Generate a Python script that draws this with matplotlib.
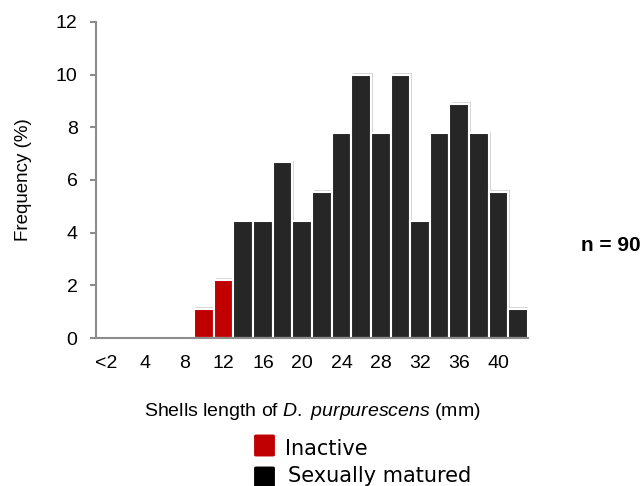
import matplotlib
matplotlib.use("Agg")
import matplotlib.pyplot as plt
import matplotlib.patheffects as pe
from matplotlib.patches import FancyBboxPatch

# size classes (mm), only every second one is labelled
labels = ["<2", "", "4", "", "8", "", "12", "", "16", "", "20", "",
          "24", "", "28", "", "32", "", "36", "", "40", ""]
# frequency (%) of inactive and sexually matured individuals, n = 90
inactive = [0, 0, 0, 0, 0, 1.11, 2.22, 0, 0, 0, 0, 0,
            0, 0, 0, 0, 0, 0, 0, 0, 0, 0]
matured = [0, 0, 0, 0, 0, 0, 0, 4.44, 4.44, 6.67, 4.44, 5.56,
           7.78, 10.0, 7.78, 10.0, 4.44, 7.78, 8.89, 7.78, 5.56, 1.11]

plt.rcParams['font.family'] = ['Liberation Sans', 'DejaVu Sans']
plt.rcParams['mathtext.fontset'] = 'custom'
plt.rcParams['mathtext.rm'] = 'Liberation Sans'
plt.rcParams['mathtext.it'] = 'Liberation Sans:italic'

red = '#c00000'
dark = '#262626'

fig = plt.figure(figsize=(6.4, 4.86), dpi=100)
ax = fig.add_axes([0.15, 0.3045, 0.675, 0.6503])

x = range(len(labels))
shadow = [pe.SimplePatchShadow(offset=(1.5, 1), shadow_rgbFace='#bbbbbb', alpha=0.6), pe.Normal()]
b1 = ax.bar(x, inactive, width=1.0, color=red, edgecolor='white', linewidth=1.5)
b2 = ax.bar(x, matured, width=1.0, color=dark, edgecolor='white', linewidth=1.5)
for b in list(b1) + list(b2):
    if b.get_height() > 0:
        b.set_path_effects(shadow)

ax.set_xlim(-0.5, len(labels) - 0.5)
ax.set_ylim(0, 12)
ax.set_yticks([0, 2, 4, 6, 8, 10, 12])
ax.set_xticks(list(x))
ax.set_xticklabels(labels)
for s in ['top', 'right']:
    ax.spines[s].set_visible(False)
for s in ['left', 'bottom']:
    ax.spines[s].set_color('#8c8c8c')
    ax.spines[s].set_linewidth(1.5)
ax.tick_params(axis='y', colors='#8c8c8c', length=4.3, width=1.5, labelsize=14,
               labelcolor='black', pad=9)
ax.tick_params(axis='x', length=0, labelsize=14, pad=12)

ax.set_ylabel('Frequency (%)', fontsize=13.5)
ax.yaxis.set_label_coords(-0.148, 0.5)
ax.set_xlabel('Shells length of $\\it{D.\\ purpurescens}$ (mm)', fontsize=14)
ax.xaxis.set_label_coords(0.5, -0.2)

fig.text(581 / 640, 1 - 245.5 / 486, 'n = 90', fontsize=15, fontweight='bold', va='center')

# legend drawn by hand below the axis title
for (top, bot), col in zip([(435, 456), (467, 487)], [red, 'black']):
    fig.patches.append(FancyBboxPatch((256 / 640, 1 - (bot - 1) / 486), 17 / 640, (bot - top - 2) / 486,
                                      boxstyle='round,pad=0.003', facecolor=col, edgecolor='none',
                                      transform=fig.transFigure, figure=fig))
fig.text(285 / 640, 1 - 455 / 486, 'Inactive', fontsize=15, family='DejaVu Sans', va='baseline')
fig.text(288 / 640, 1 - 482 / 486, 'Sexually matured', fontsize=15, family='DejaVu Sans', va='baseline')

fig.savefig('out.png', dpi=100)
